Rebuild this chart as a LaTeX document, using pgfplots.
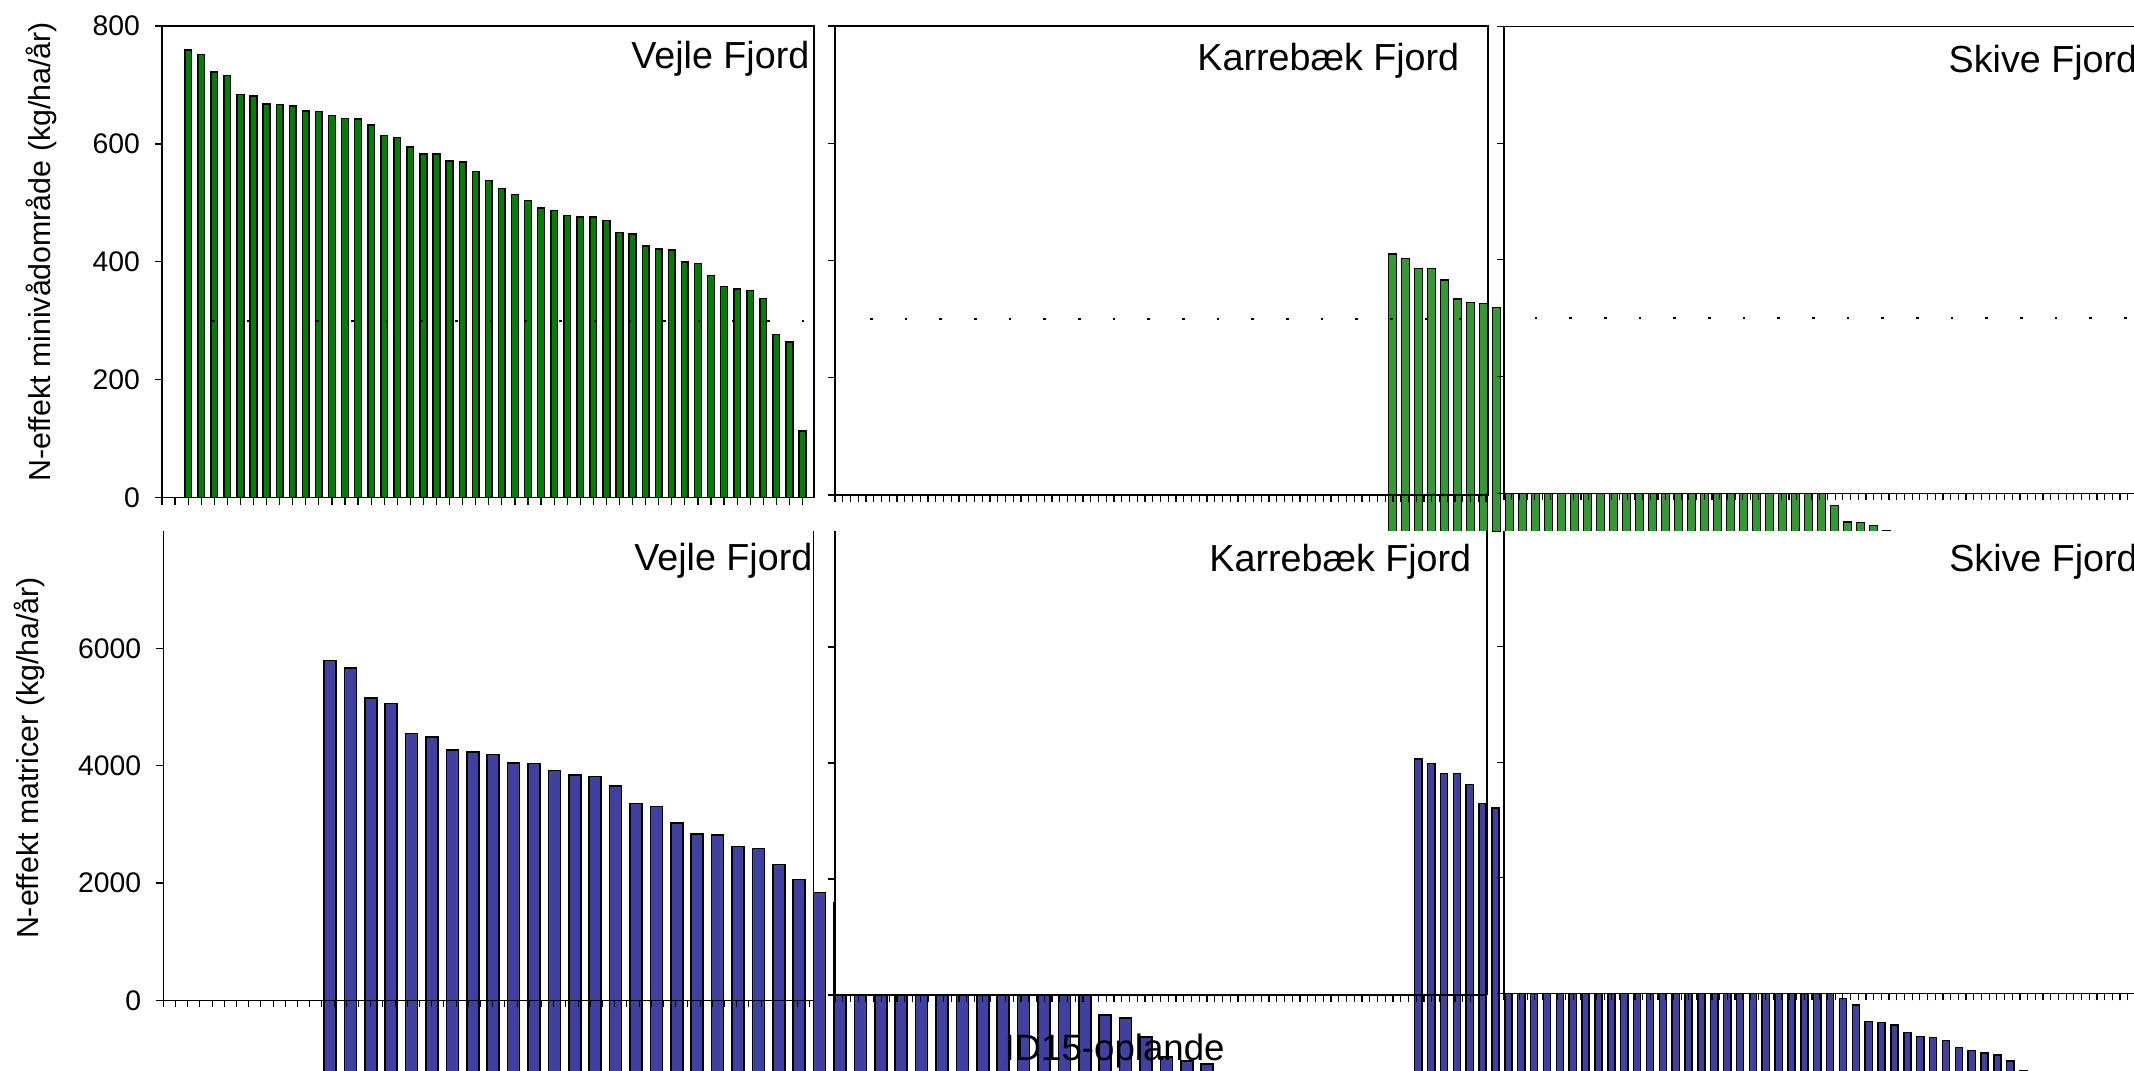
\documentclass[border=0pt]{standalone}
\usepackage{fontspec}
\setmainfont{Liberation Sans}
\usepackage{pgfplots}
\usepackage{pgfplotstable}
\pgfplotsset{compat=1.18}
\definecolor{gA}{RGB}{0,128,0}
\definecolor{gB}{RGB}{51,153,51}
\definecolor{bl}{RGB}{64,64,160}
\newcommand\titlefont{\fontsize{11.3}{13}\selectfont}

% Vejle Fjord, top row
\pgfplotstableread{
k v
2 759
3 752
4 722
5 716
6 684
7 681
8 668
9 667
10 664
11 656
12 655
13 648
14 643
15 642
16 632
17 614
18 611
19 595
20 583
21 583
22 571
23 569
24 553
25 538
26 524
27 514
28 504
29 491
30 487
31 479
32 476
33 476
34 470
35 450
36 447
37 427
38 422
39 420
40 400
41 397
42 377
43 358
44 354
45 351
46 338
47 277
48 264
49 113
}\tA

% Karrebaek series, top row
\pgfplotstableread{
k v
0 411
1 403
2 386
3 386
4 367
5 334
6 328
7 327
8 320
9 316
10 309
11 301
12 293
13 284
14 273
15 262
16 250
17 238
18 226
19 212
20 198
21 184
22 169
23 154
24 139
25 123
26 107
27 92
28 77
29 63
30 50
31 38
32 27
33 18
34 -18
35 -46
36 -47
37 -52
38 -61
}\tGB

% Vejle series, bottom row
\pgfplotstableread{
k v
1 5800
2 5667
3 5155
4 5065
5 4552
6 4491
7 4268
8 4232
9 4196
10 4052
11 4039
12 3919
13 3840
14 3816
15 3653
16 3358
17 3310
18 3026
19 2839
20 2821
21 2622
22 2592
23 2314
24 2061
25 1838
26 1670
27 1550
28 1480
29 1390
30 1290
31 1170
32 1050
33 930
34 800
35 650
36 490
37 330
38 180
39 -247
40 -300
41 -623
42 -965
43 -1039
44 -1083
}\tDB

% Karrebaek series, bottom row
\pgfplotstableread{
k v
0 4067
1 3988
2 3817
3 3817
4 3628
5 3300
6 3226
7 3100
8 2985
9 2860
10 2740
11 2610
12 2480
13 2365
14 2240
15 2110
16 1990
17 1860
18 1735
19 1610
20 1480
21 1355
22 1230
23 1105
24 975
25 850
26 725
27 600
28 480
29 355
30 235
31 130
32 60
33 -57
34 -172
35 -460
36 -471
37 -517
38 -643
39 -719
40 -736
41 -788
42 -902
43 -960
44 -1000
45 -1034
46 -1138
47 -1298
}\tEB

\pgfplotsset{
  panel/.style={scale only axis, clip=false,
    axis line style={line width=0.35pt},
    tick align=outside, major tick length=2.1pt,
    every tick/.style={black, line width=0.35pt},
    xtick pos=bottom, ytick pos=left, xticklabels={},
    ticklabel style={font=\fontsize{8.5}{10}\selectfont},
    yticklabel style={xshift=-1pt},
    label style={font=\fontsize{9.1}{11}\selectfont}},
  barax/.style={scale only axis, hide axis, clip=false},
  refline/.style={sharp plot, line width=0.7pt, dash pattern=on 0.8pt off 9.6pt}
}

\begin{document}
\begin{tikzpicture}
\useasboundingbox (0,0) rectangle (640.2pt,321.3pt);
\clip (0,0) rectangle (640.2pt,321.3pt);

% ---------- top row ----------
\begin{axis}[panel, at={(48.6pt,171.99pt)}, anchor=south west,
  width=195.6pt, height=141.51pt, xmin=0, xmax=49.88, ymin=0, ymax=800,
  xtick={0,...,49}, ytick={0,200,400,600,800}, yticklabels={0,200,400,600,800},
  ylabel={N-effekt minivådområde (kg/ha/år)},
  ylabel style={at={(axis description cs:-0.1856,0.521)}, anchor=center}]
\addplot[ybar, bar width=2pt, fill=gA, draw=black, line width=0.45pt] table[x=k,y=v] {\tA};
\addplot[refline] coordinates {(3.86,300) (49.3,300)};
\node[anchor=base east, inner sep=0, font=\titlefont] at (rel axis cs:0.9939,0.9103) {Vejle Fjord};
\end{axis}

% Karrebaek bars (top): baseline at the lower edge of the row (-62.6)
\begin{axis}[barax, at={(417.81pt,161.79pt)}, anchor=south west,
  width=148.2pt, height=151.71pt, xmin=0, xmax=38, ymin=0, ymax=862.6]
\addplot[ybar, bar width=2.4pt, fill=gB, draw=black, line width=0.45pt] table[x=k, y expr=\thisrow{v}+62.6] {\tGB};
\end{axis}

\begin{axis}[panel, at={(250.5pt,172.8pt)}, anchor=south west,
  width=195.9pt, height=140.7pt, xmin=0, xmax=84.26, ymin=0, ymax=800,
  xtick={0,...,84}, ytick={0,200,400,600,800}, yticklabels={}]
\addplot[refline] coordinates {(4.5,300) (84.26,300)};
\node[anchor=base east, inner sep=0, font=\titlefont] at (rel axis cs:0.9568,0.9047) {Karrebæk Fjord};
\end{axis}

\begin{axis}[panel, at={(451.2pt,173.31pt)}, anchor=south west,
  width=208.8pt, height=140.04pt, xmin=0, xmax=90.39, ymin=0, ymax=800,
  xtick={0,...,90}, ytick={0,200,400,600,800}, yticklabels={},
  axis background/.style={fill=white}]
\addplot[refline] coordinates {(4.0,300) (90.39,300)};
\node[anchor=base west, inner sep=0, font=\titlefont] at (rel axis cs:0.638,0.9025) {Skive Fjord};
\end{axis}

% ---------- bottom row ----------
% Vejle bars (bottom): baseline -1300, below the picture
\begin{axis}[barax, at={(99pt,-1.65pt)}, anchor=south west,
  width=263.16pt, height=163.56pt, xmin=1, xmax=44, ymin=0, ymax=9300]
\addplot[ybar, bar width=3.6pt, fill=bl, draw=black, line width=0.45pt] table[x=k, y expr=\thisrow{v}+1300] {\tDB};
\end{axis}

\begin{axis}[panel, at={(48.99pt,21.21pt)}, anchor=south west,
  width=195pt, height=140.7pt, xmin=0, xmax=53.28, ymin=0, ymax=8000,
  axis x line*=bottom, axis y line*=box,
  xtick={0,...,53}, ytick={0,2000,4000,6000}, yticklabels={0,2000,4000,6000},
  ylabel={N-effekt matricer (kg/ha/år)},
  ylabel style={at={(axis description cs:-0.2066,0.5166)}, anchor=center}]
\node[anchor=base east, inner sep=0, font=\titlefont] at (rel axis cs:0.9995,0.9154) {Vejle Fjord};
\end{axis}

\begin{axis}[panel, at={(250.5pt,22.8pt)}, anchor=south west,
  width=195.6pt, height=139.2pt, xmin=0, xmax=84.13, ymin=0, ymax=8000,
  axis x line*=bottom, axis y line*=box,
  xtick={0,...,84}, ytick={0,2000,4000,6000}, yticklabels={},
  axis background/.style={fill=white}]
\node[anchor=base east, inner sep=0, font=\titlefont] at (rel axis cs:0.9767,0.9134) {Karrebæk Fjord};
\end{axis}

% Karrebaek bars (bottom): baseline -1400, below the picture
\begin{axis}[barax, at={(425.49pt,-1.56pt)}, anchor=south west,
  width=181.47pt, height=163.56pt, xmin=0, xmax=47, ymin=0, ymax=9400]
\addplot[ybar, bar width=2.15pt, fill=bl, draw=black, line width=0.45pt] table[x=k, y expr=\thisrow{v}+1400] {\tEB};
\end{axis}

\begin{axis}[panel, at={(451.2pt,23.31pt)}, anchor=south west,
  width=208.8pt, height=138.6pt, xmin=0, xmax=90.39, ymin=0, ymax=8000,
  axis x line*=bottom, axis y line*=left,
  xtick={0,...,90}, ytick={0,2000,4000,6000}, yticklabels={},
  axis background/.style={fill=white}]
\node[anchor=base west, inner sep=0, font=\titlefont] at (rel axis cs:0.6388,0.912) {Skive Fjord};
\end{axis}

\begin{axis}[panel, at={(250.5pt,22.8pt)}, anchor=south west,
  width=195.6pt, height=139.2pt, xmin=0, xmax=84.13, ymin=0, ymax=8000,
  axis x line*=bottom, axis y line*=box,
  xtick={0,...,84}, ytick={0,2000,4000,6000}, yticklabels={},
  xlabel={ID15-oplande},
  xlabel style={at={(axis description cs:0.4288,-0.141)}, anchor=base, font=\fontsize{11}{13}\selectfont}]
\end{axis}
\end{tikzpicture}
\end{document}
